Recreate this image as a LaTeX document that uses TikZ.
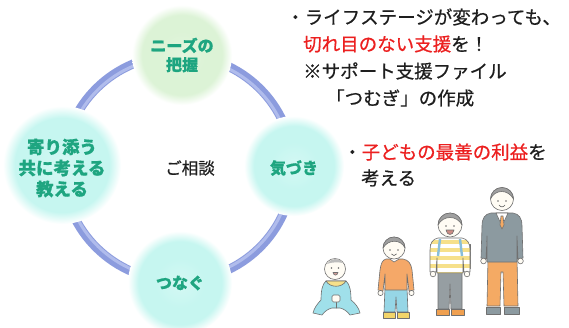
\documentclass[tikz,border=0pt]{standalone}
\usepackage{fontspec}
\newfontfamily\jp{Noto Sans CJK JP}
\newfontfamily\jpnote{Noto Sans CJK JP}[FakeBold=0.6]

% palette
\definecolor{ringblue}{RGB}{140,156,222}
\definecolor{ringlight}{RGB}{176,188,236}
\definecolor{discgreen}{RGB}{220,243,214}
\definecolor{disccyan}{RGB}{198,246,240}
\definecolor{labelteal}{RGB}{30,165,128}
\definecolor{inkgray}{RGB}{30,30,30}
\definecolor{accentred}{RGB}{236,32,32}
\definecolor{figline}{RGB}{112,112,112}
\definecolor{skin}{RGB}{255,252,244}
\definecolor{hairgray}{RGB}{160,160,160}
\definecolor{sweatergray}{RGB}{140,154,160}
\definecolor{pantsorange}{RGB}{244,170,100}
\definecolor{sweaterorange}{RGB}{245,168,104}
\definecolor{babycyan}{RGB}{160,224,234}
\definecolor{pantscyan}{RGB}{150,214,230}
\definecolor{shoeyellow}{RGB}{242,212,106}
\definecolor{stripeyellow}{RGB}{246,224,138}
\definecolor{packblue}{RGB}{136,190,218}
\definecolor{pantsgray}{RGB}{150,158,162}
\definecolor{shoeorange}{RGB}{240,160,80}
\definecolor{mouthred}{RGB}{180,90,80}

% soft-edged discs
\pgfdeclareradialshading{softgreen}{\pgfpoint{0bp}{0bp}}{color(0bp)=(discgreen!80!white); color(12bp)=(discgreen); color(20bp)=(discgreen); color(25bp)=(white); color(50bp)=(white)}
\pgfdeclareradialshading{softcyan}{\pgfpoint{0bp}{0bp}}{color(0bp)=(disccyan!75!white); color(12bp)=(disccyan); color(20bp)=(disccyan); color(25bp)=(white); color(50bp)=(white)}

\begin{document}
\begin{tikzpicture}[x=1pt,y=-1pt,
  disc/.style={circle,shade,draw=none,inner sep=0pt},
  ringtext/.style={font=\jpnote\bfseries\fontsize{16}{19}\selectfont,text=labelteal,align=center,inner sep=0pt},
  note/.style={font=\jpnote\fontsize{18.5}{22}\selectfont,text=inkgray,anchor=west,inner sep=0pt},
  outline/.style={draw=figline,line width=0.6pt,line join=round,line cap=round},
  facefeat/.style={draw=figline!80!black,line width=0.6pt,line cap=round}]

\useasboundingbox[fill=white] (0,0) rectangle (569,327);

% consultation cycle
\coordinate (hub) at (178,168);
\draw[ringblue,line width=9pt] (hub) circle[x radius=115pt,y radius=113pt];
\draw[ringlight,line width=3pt] (hub) circle[x radius=113pt,y radius=111pt];

\node[disc,shading=softgreen,minimum size=100pt] (needs) at (182,55) {};
\node[disc,shading=softcyan,minimum size=118pt] (support) at (62,165) {};
\node[disc,shading=softcyan,minimum size=100pt] (aware) at (294,166) {};
\node[disc,shading=softcyan,minimum size=104pt] (connect) at (180,283) {};

\node[ringtext] (needstext) at (needs) {ニーズの\\把握};
\node[ringtext,font=\jpnote\bfseries\fontsize{17.5}{21}\selectfont,yshift=-3pt] (supporttext) at (support) {寄り添う\\共に考える\\教える};
\node[ringtext,yshift=-2pt] (awaretext) at (aware) {気づき};
\node[ringtext,yshift=0pt] (connecttext) at (connect) {つなぐ};

\node[font=\jpnote\fontsize{16.5}{19}\selectfont,text=inkgray,inner sep=0pt] (consult) at (190,168) {ご相談};

% notes on the right
\node[note] (n1) at (286,17) {・ライフステージが変わっても、};
\node[note] (n2) at (303,44) {{\color{accentred}切れ目のない支援}を！};
\node[note] (n3) at (303,71) {※サポート支援ファイル};
\node[note] (n4) at (326,98) {「つむぎ」の作成};
\node[note] (n5) at (343,152) {・{\color{accentred}子どもの最善の利益}を};
\node[note] (n6) at (361,178) {考える};

% --- baby ---
\draw[outline,fill=babycyan] (326,281) -- (346,281) .. controls (350,284) and (351,292) .. (351,300)
  .. controls (355,303) and (359,308) .. (360,313) -- (350,315) .. controls (347,311) and (344,309) .. (340,308)
  -- (332,308) .. controls (328,309) and (325,311) .. (322,315) -- (313,313)
  .. controls (314,308) and (318,303) .. (321,300) .. controls (321,292) and (322,284) .. (326,281) -- cycle;
\draw[outline] (336,308) -- (336,302);
\draw[outline,fill=skin,rounded corners=1.5pt] (332,295) rectangle (340,302);
\draw[outline,fill=stripeyellow] (326,281) .. controls (330,288) and (342,288) .. (346,281) -- cycle;
\draw[outline,fill=skin] (335,269) circle[radius=10.5pt];
\fill[hairgray!70!white] (327,264) .. controls (330,258) and (340,257) .. (343,263) .. controls (339,262) and (331,262) .. (327,264) -- cycle;
\fill[figline] (331.5,268) circle[radius=0.9pt] (338.5,268) circle[radius=0.9pt];
\draw[outline,fill=mouthred!60!white] (333,272.5) .. controls (334,276) and (337,276) .. (338,272.5) -- cycle;

% --- toddler ---
\draw[outline,fill=pantscyan] (385,288) -- (407,288) -- (408,312) -- (397,312) -- (396,297) -- (395,312) -- (384,312) -- cycle;
\draw[outline,fill=shoeyellow] (383,312) rectangle (395,318);
\draw[outline,fill=shoeyellow] (397,312) rectangle (409,318);
\draw[outline,fill=sweaterorange] (386,259) -- (403,259) .. controls (409,260) and (411,264) .. (412,270)
  -- (414,290) -- (409,291) -- (407,274) -- (407,290) -- (385,290) -- (385,274) -- (383,291) -- (378,290)
  -- (380,270) .. controls (381,264) and (382,260) .. (386,259) -- cycle;
\draw[outline,fill=skin] (380.5,293) circle[radius=2.6pt] (411.5,293) circle[radius=2.6pt];
\draw[outline,fill=white] (390,259) -- (394,262) -- (399,259);
\draw[outline,fill=skin] (394,248) circle[radius=11pt];
\draw[outline,fill=hairgray] (383,248) arc[start angle=180,end angle=0,radius=11pt]
  .. controls (401,239) and (388,239) .. (383,248) -- cycle;
\fill[figline] (390,250) circle[radius=0.9pt] (398,250) circle[radius=0.9pt];
\draw[facefeat] (391.5,254) .. controls (393,256) and (395,256) .. (396.5,254);

% --- school child ---
\draw[outline,fill=pantsgray] (438,271) -- (462,271) -- (462,309) -- (451,309) -- (450,284) -- (449,309) -- (438,309) -- cycle;
\draw[outline,fill=shoeorange] (436,309) rectangle (449,315);
\draw[outline,fill=shoeorange] (451,309) rectangle (464,315);
\draw[outline,fill=packblue] (430,244) rectangle (436,268);
\draw[outline,fill=packblue] (464,244) rectangle (470,268);
\begin{scope}
  \path[clip] (438,238) -- (462,238) .. controls (468,239) and (470,244) .. (470,250) -- (470,272) -- (464,272)
    -- (463,258) -- (463,273) -- (437,273) -- (437,258) -- (436,272) -- (430,272) -- (430,250)
    .. controls (430,244) and (432,239) .. (438,238) -- cycle;
  \fill[white] (425,235) rectangle (475,275);
  \foreach \yy in {240,248,256,264,272}
    \fill[stripeyellow] (425,\yy) rectangle (475,\yy+4);
\end{scope}
\draw[outline] (438,238) -- (462,238) .. controls (468,239) and (470,244) .. (470,250) -- (470,272) -- (464,272)
  -- (463,258) -- (463,273) -- (437,273) -- (437,258) -- (436,272) -- (430,272) -- (430,250)
  .. controls (430,244) and (432,239) .. (438,238) -- cycle;
\draw[packblue,line width=2.4pt] (440,239) -- (438,256);
\draw[packblue,line width=2.4pt] (460,239) -- (462,256);
\draw[outline,fill=skin] (433,274) circle[radius=2.8pt] (467,274) circle[radius=2.8pt];
\draw[outline,fill=skin] (450,225) circle[radius=12pt];
\draw[outline,fill=hairgray] (438,225) arc[start angle=180,end angle=0,radius=12pt]
  .. controls (457,215) and (443,215) .. (438,225) -- cycle;
\fill[figline] (446,226) circle[radius=0.9pt] (454,226) circle[radius=0.9pt];
\draw[outline,fill=mouthred!70!white] (446,230) .. controls (447,236) and (453,236) .. (454,230) -- cycle;

% --- adult ---
\draw[outline,fill=pantsorange] (488,258) -- (517,258) -- (518,306) -- (504,306) -- (503,272) -- (501,272) -- (500,306) -- (487,306) -- cycle;
\draw[outline,fill=sweatergray] (486,307) rectangle (500,314);
\draw[outline,fill=sweatergray] (504,307) rectangle (519,314);
\draw[outline,fill=sweatergray] (491,213) -- (513,213) .. controls (519,214) and (522,218) .. (522,226)
  -- (523,258) -- (518,259) -- (517,236) -- (517,262) -- (487,262) -- (487,236) -- (486,259) -- (481,258)
  -- (482,226) .. controls (482,218) and (485,214) .. (491,213) -- cycle;
\draw[outline,fill=skin] (483.5,261) circle[radius=2.8pt] (520.5,261) circle[radius=2.8pt];
\draw[outline,fill=white] (496,213) -- (508,213) -- (502,226) -- cycle;
\draw[outline,fill=pantsorange] (501,216) -- (503,216) -- (504,225) -- (502,229) -- (500,225) -- cycle;
\draw[outline,fill=skin] (502,199) circle[radius=11.5pt];
\draw[outline,fill=hairgray] (490.5,199) arc[start angle=180,end angle=0,radius=11.5pt]
  .. controls (508,189) and (495,189) .. (490.5,199) -- cycle;
\fill[figline] (498,201) circle[radius=0.9pt] (506,201) circle[radius=0.9pt];
\draw[facefeat] (499,205) .. controls (501,207.5) and (503,207.5) .. (505,205);

\end{tikzpicture}
\end{document}
